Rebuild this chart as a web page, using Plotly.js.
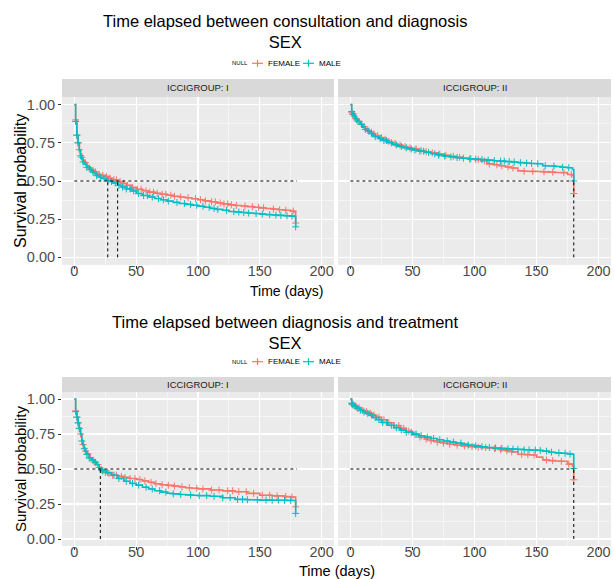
<!DOCTYPE html>
<html>
<head>
<meta charset="utf-8">
<script src="https://cdn.plot.ly/plotly-3.0.1.min.js"></script>
<style>html,body{margin:0;padding:0;background:#fff;}#chart{width:614px;height:579px;}</style>
</head>
<body>
<div id="chart"></div>
<script>
// ---------- text ----------
const plotTitles = ['Time elapsed between consultation and diagnosis', 'Time elapsed between diagnosis and treatment'];
const strataTitle = 'SEX';
const legendTitle = 'NULL';
const groupNames = ['FEMALE', 'MALE'];
const facetLabels = ['ICCIGROUP: I', 'ICCIGROUP: II'];
const xTitle = 'Time (days)';
const yTitle = 'Survival probability';

// ---------- top row: consultation -> diagnosis, ICCIGROUP I ----------
const tTL = [0,1,2,3,4,5,6,7,8,10,12,14,16,18,20,22,25,28,31,35,38,42,46,50,55,60,65,70,75,80,85,90,95,100,105,110,115,120,125,130,135,140,145,150,155,160,165,170,175,178,179];
const sTLF = [1.0,0.90,0.80,0.75,0.705,0.675,0.655,0.635,0.62,0.60,0.585,0.57,0.56,0.55,0.543,0.537,0.53,0.518,0.508,0.497,0.485,0.472,0.458,0.446,0.436,0.427,0.42,0.413,0.407,0.40,0.395,0.39,0.384,0.377,0.37,0.364,0.356,0.35,0.344,0.34,0.336,0.332,0.328,0.324,0.32,0.316,0.312,0.308,0.303,0.298,0.225];
const sTLM = [1.0,0.89,0.80,0.75,0.70,0.665,0.645,0.625,0.61,0.59,0.575,0.56,0.547,0.535,0.525,0.517,0.506,0.497,0.487,0.472,0.46,0.448,0.435,0.418,0.405,0.395,0.385,0.377,0.368,0.36,0.353,0.347,0.341,0.335,0.328,0.32,0.314,0.308,0.30,0.297,0.294,0.29,0.287,0.283,0.28,0.277,0.275,0.272,0.27,0.268,0.20];
const cTLF = [1,2,3,4,6,9,12,15,17,20,23,26,29,32,34,37,40,43,47,51,54,58,61,64,67,71,74,78,81,86,92,98,102,106,111,114,118,121,124,127,131,138,144,149,153,161,166,171,177,179];
const cTLM = [1,2,3,5,7,10,13,15,18,21,24,27,30,33,36,39,42,45,48,52,56,59,63,68,72,76,83,89,94,99,104,109,113,116,123,129,133,137,141,147,152,158,163,167,172,176,179];
const medTL = [35, 27];

// ---------- top row: consultation -> diagnosis, ICCIGROUP II ----------
const tTR = [0,1,2,3,4,5,6,8,10,12,14,16,18,20,23,26,30,34,38,42,46,50,55,60,65,70,75,80,85,90,95,100,105,110,115,120,125,130,135,140,145,150,155,160,165,170,175,179,180];
const sTRF = [1.0,0.95,0.935,0.922,0.91,0.90,0.89,0.872,0.857,0.843,0.831,0.819,0.808,0.797,0.785,0.773,0.759,0.746,0.735,0.725,0.717,0.71,0.70,0.692,0.684,0.676,0.668,0.661,0.655,0.649,0.644,0.64,0.632,0.612,0.606,0.60,0.592,0.585,0.566,0.564,0.563,0.562,0.56,0.558,0.556,0.555,0.543,0.535,0.418];
const sTRM = [1.0,0.955,0.94,0.925,0.912,0.90,0.89,0.87,0.853,0.838,0.825,0.812,0.80,0.79,0.777,0.765,0.75,0.737,0.727,0.718,0.71,0.703,0.695,0.687,0.678,0.67,0.663,0.658,0.653,0.649,0.646,0.643,0.64,0.637,0.633,0.63,0.627,0.624,0.62,0.617,0.615,0.613,0.60,0.598,0.595,0.59,0.587,0.575,0.50];
const cTRF = [1,2,4,6,9,11,14,17,19,22,25,28,31,36,40,44,48,53,57,61,66,72,77,83,88,96,103,108,112,118,122,127,131,140,147,156,163,172,178,180];
const cTRM = [1,2,3,5,7,9,12,15,17,20,24,27,29,33,37,41,45,49,52,56,59,63,68,71,76,81,86,91,97,101,106,111,116,121,124,128,132,137,142,146,151,157,164,171,176,180];
const medTR = [180, 180];

// ---------- bottom row: diagnosis -> treatment, ICCIGROUP I ----------
const tBL = [0,1,2,3,4,5,6,7,8,9,10,12,14,16,18,20,21,23,26,30,35,40,45,50,55,60,65,70,75,80,85,90,95,100,110,120,130,140,150,160,170,175,179];
const sBLF = [1.0,0.915,0.87,0.83,0.79,0.75,0.705,0.675,0.65,0.628,0.608,0.58,0.565,0.55,0.532,0.51,0.495,0.475,0.468,0.455,0.447,0.44,0.432,0.425,0.415,0.405,0.395,0.388,0.383,0.378,0.372,0.366,0.362,0.358,0.35,0.344,0.338,0.326,0.313,0.308,0.303,0.30,0.23];
const sBLM = [1.0,0.91,0.87,0.83,0.79,0.75,0.70,0.67,0.645,0.625,0.605,0.578,0.562,0.547,0.53,0.51,0.497,0.487,0.475,0.455,0.432,0.412,0.397,0.385,0.37,0.357,0.345,0.335,0.327,0.322,0.318,0.315,0.313,0.31,0.305,0.295,0.283,0.28,0.278,0.277,0.276,0.275,0.183];
const cBLF = [1,2,3,4,5,7,9,11,13,16,19,22,25,28,31,34,38,41,45,49,53,57,62,66,71,76,81,87,93,99,104,111,117,124,128,133,139,145,152,158,164,171,176,179];
const cBLM = [1,2,3,4,6,8,10,12,15,17,20,23,27,32,36,42,47,52,58,63,69,74,80,86,94,101,107,113,120,126,132,136,140,148,155,160,165,170,175,179];
const medBL = [21, 21];

// ---------- bottom row: diagnosis -> treatment, ICCIGROUP II ----------
const tBR = [0,1,2,3,4,5,6,8,10,12,15,18,21,25,30,35,40,45,50,55,60,65,70,75,80,85,90,95,100,105,110,115,120,125,130,135,140,145,150,155,160,165,170,175,179,180];
const sBRF = [1.0,0.965,0.958,0.952,0.947,0.942,0.937,0.927,0.918,0.91,0.898,0.884,0.87,0.852,0.83,0.81,0.79,0.77,0.745,0.728,0.714,0.702,0.692,0.684,0.677,0.67,0.665,0.66,0.656,0.653,0.651,0.646,0.638,0.63,0.622,0.605,0.603,0.60,0.585,0.565,0.56,0.557,0.555,0.535,0.52,0.423];
const sBRM = [1.0,0.97,0.962,0.955,0.948,0.94,0.933,0.92,0.907,0.897,0.885,0.868,0.853,0.832,0.812,0.795,0.778,0.762,0.749,0.738,0.728,0.718,0.709,0.70,0.692,0.685,0.678,0.671,0.665,0.659,0.654,0.65,0.647,0.644,0.642,0.64,0.637,0.635,0.633,0.628,0.62,0.615,0.612,0.607,0.605,0.504];
const cBRF = [1,2,3,5,7,10,13,16,19,23,27,31,35,39,43,47,52,56,61,65,70,75,80,86,92,98,103,109,116,121,126,130,138,143,148,158,163,170,176,180];
const cBRM = [1,2,4,6,8,11,14,17,20,23,26,29,33,37,41,45,49,53,57,62,67,72,78,83,89,95,101,106,112,117,122,127,131,135,140,144,149,153,158,162,168,173,177,180];
const medBR = [180, 180];

// ---------- styling ----------
const FONT = 'Liberation Sans, Arial, sans-serif';
const COLORS = ['#F8766D', '#00BFC4'];
const W = 614, H = 579;
const px = v => v / W;
const py = v => 1 - v / H;

function stepAt(ts, ss, t) {
  let v = ss[0];
  for (let i = 0; i < ts.length; i++) { if (ts[i] <= t) v = ss[i]; }
  return v;
}

const panels = [
  {xa: 'x',  ya: 'y',  t: tTL, s: [sTLF, sTLM], c: [cTLF, cTLM], med: medTL, row: 0},
  {xa: 'x2', ya: 'y2', t: tTR, s: [sTRF, sTRM], c: [cTRF, cTRM], med: medTR, row: 0},
  {xa: 'x3', ya: 'y3', t: tBL, s: [sBLF, sBLM], c: [cBLF, cBLM], med: medBL, row: 1},
  {xa: 'x4', ya: 'y4', t: tBR, s: [sBRF, sBRM], c: [cBRF, cBRM], med: medBR, row: 1}
];

const traces = [];
const shapes = [];
const rowMax = [Math.max(...medTL, ...medTR), Math.max(...medBL, ...medBR)];

panels.forEach(p => {
  for (let g = 0; g < 2; g++) {
    traces.push({
      type: 'scatter', mode: 'lines', xaxis: p.xa, yaxis: p.ya,
      x: p.t, y: p.s[g], line: {shape: 'hv', color: COLORS[g], width: 1.6},
      name: groupNames[g], showlegend: false, hoverinfo: 'skip'
    });
    traces.push({
      type: 'scatter', mode: 'markers', xaxis: p.xa, yaxis: p.ya,
      x: p.c[g], y: p.c[g].map(t => stepAt(p.t, p.s[g], t)),
      marker: {symbol: 'cross-thin', size: 5, color: COLORS[g], line: {color: COLORS[g], width: 1}},
      showlegend: false, hoverinfo: 'skip'
    });
  }
  const dashed = {color: '#000000', width: 1, dash: '3px,3px'};
  shapes.push({type: 'line', xref: p.xa, yref: p.ya, x0: 0, x1: rowMax[p.row], y0: 0.5, y1: 0.5, line: dashed});
  [...new Set(p.med)].forEach(m => {
    shapes.push({type: 'line', xref: p.xa, yref: p.ya, x0: m, x1: m, y0: 0, y1: 0.5, line: dashed});
  });
});

// panel geometry (pixels)
const colX = [[62, 334], [338, 611]];
const rowY = [[97, 265], [392, 546]];
const stripY = [[79, 97], [377, 392]];

function xAxis(col, anchor) {
  return {
    domain: [px(colX[col][0]), px(colX[col][1])], anchor: anchor,
    range: [-10, 210], tickmode: 'linear', tick0: 0, dtick: 50,
    ticks: 'outside', ticklen: 3, tickwidth: 1, tickcolor: '#333333',
    ticklabelstandoff: -10,
    tickfont: {family: FONT, size: 14.5, color: '#4d4d4d'},
    showgrid: true, gridcolor: '#ffffff', gridwidth: 1.1,
    minor: {dtick: 25, tick0: 0, showgrid: true, gridcolor: '#ffffff', gridwidth: 0.5, ticks: ''},
    zeroline: false, showline: false, fixedrange: true
  };
}
function yAxis(row, anchor, labels) {
  return {
    domain: [py(rowY[row][1]), py(rowY[row][0])], anchor: anchor,
    range: [-0.05, 1.05], tickmode: 'linear', tick0: 0, dtick: 0.25, tickformat: '.2f',
    ticks: labels ? 'outside' : '', ticklen: 3, tickwidth: 1, tickcolor: '#333333',
    showticklabels: labels,
    tickfont: {family: FONT, size: 14.5, color: '#4d4d4d'},
    showgrid: true, gridcolor: '#ffffff', gridwidth: 1.1,
    minor: {dtick: 0.125, tick0: 0, showgrid: true, gridcolor: '#ffffff', gridwidth: 0.5, ticks: ''},
    zeroline: false, showline: false, fixedrange: true
  };
}

const annotations = [];
const titleY = [31.7, 332.5];
const legendY = [63.3, 361.7];
for (let r = 0; r < 2; r++) {
  annotations.push({xref: 'paper', yref: 'paper', x: px(285), y: py(titleY[r]), xanchor: 'center', yanchor: 'middle',
    text: plotTitles[r] + '<br>' + strataTitle, showarrow: false, font: {family: FONT, size: 16.5, color: '#000000'}});
  // legend
  annotations.push({xref: 'paper', yref: 'paper', x: px(250), y: py(legendY[r]), xanchor: 'right', yanchor: 'middle',
    text: legendTitle, showarrow: false, font: {family: FONT, size: 6, color: '#000000'}});
  const keyX = [[252, 263, 265.5], [303, 314, 316.5]];
  for (let g = 0; g < 2; g++) {
    const k = keyX[g];
    shapes.push({type: 'line', xref: 'paper', yref: 'paper', x0: px(k[0]), x1: px(k[1]), y0: py(legendY[r]), y1: py(legendY[r]),
      line: {color: COLORS[g], width: 1.2}});
    shapes.push({type: 'line', xref: 'paper', yref: 'paper', x0: px((k[0] + k[1]) / 2), x1: px((k[0] + k[1]) / 2),
      y0: py(legendY[r] - 3.5), y1: py(legendY[r] + 3.5), line: {color: COLORS[g], width: 1.2}});
    annotations.push({xref: 'paper', yref: 'paper', x: px(k[2]), y: py(legendY[r]), xanchor: 'left', yanchor: 'middle',
      text: groupNames[g], showarrow: false, font: {family: FONT, size: 8, color: '#000000'}});
  }
  // strips
  for (let c = 0; c < 2; c++) {
    shapes.push({type: 'rect', xref: 'paper', yref: 'paper', layer: 'below',
      x0: px(colX[c][0]), x1: px(colX[c][1]), y0: py(stripY[r][1]), y1: py(stripY[r][0]),
      fillcolor: '#d9d9d9', line: {width: 0}});
    annotations.push({xref: 'paper', yref: 'paper', x: px((colX[c][0] + colX[c][1]) / 2), y: py((stripY[r][0] + stripY[r][1]) / 2),
      xanchor: 'center', yanchor: 'middle', text: facetLabels[c], showarrow: false,
      font: {family: FONT, size: 9.5, color: '#1a1a1a'}});
  }
}
// axis titles
annotations.push({xref: 'paper', yref: 'paper', x: px(286), y: py(291), xanchor: 'center', yanchor: 'middle',
  text: xTitle, showarrow: false, font: {family: FONT, size: 14, color: '#000000'}});
annotations.push({xref: 'paper', yref: 'paper', x: px(337), y: py(570.5), xanchor: 'center', yanchor: 'middle',
  text: xTitle, showarrow: false, font: {family: FONT, size: 14.5, color: '#000000'}});
annotations.push({xref: 'paper', yref: 'paper', x: px(20), y: py(181), xanchor: 'center', yanchor: 'middle', textangle: -90,
  text: yTitle, showarrow: false, font: {family: FONT, size: 16, color: '#000000'}});
annotations.push({xref: 'paper', yref: 'paper', x: px(20), y: py(469), xanchor: 'center', yanchor: 'middle', textangle: -90,
  text: yTitle, showarrow: false, font: {family: FONT, size: 15, color: '#000000'}});

const layout = {
  width: W, height: H,
  margin: {l: 0, r: 0, t: 0, b: 0},
  paper_bgcolor: '#ffffff', plot_bgcolor: '#ebebeb',
  showlegend: false,
  font: {family: FONT},
  xaxis: xAxis(0, 'y'), yaxis: yAxis(0, 'x', true),
  xaxis2: xAxis(1, 'y2'), yaxis2: yAxis(0, 'x2', false),
  xaxis3: xAxis(0, 'y3'), yaxis3: yAxis(1, 'x3', true),
  xaxis4: xAxis(1, 'y4'), yaxis4: yAxis(1, 'x4', false),
  shapes: shapes, annotations: annotations
};

Plotly.newPlot('chart', traces, layout, {staticPlot: true, displayModeBar: false});
</script>
</body>
</html>
